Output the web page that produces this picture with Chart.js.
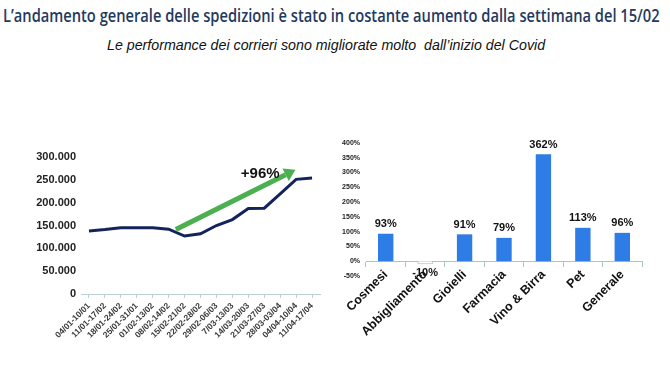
<!DOCTYPE html>
<html>
<head>
<meta charset="utf-8">
<script src="https://cdn.jsdelivr.net/npm/chart.js@4"></script>
<style>
  body { margin: 0; width: 670px; height: 377px; background: #fff; position: relative; overflow: hidden; font-family: "Liberation Sans", Arial, sans-serif; }
  #title { position: absolute; left: 3px; top: 3px; white-space: nowrap; font: 600 18px "Open Sans", sans-serif; color: #1f3a5f; transform-origin: 0 0; }
  #subtitle { position: absolute; left: 107px; top: 37px; font: italic 14px "Liberation Sans", Arial, sans-serif; color: #111; white-space: pre; transform-origin: 0 0; }
  .box { position: absolute; }
</style>
</head>
<body>
<div id="title">L’andamento generale delle spedizioni è stato in costante aumento dalla settimana del 15/02</div>
<div id="subtitle">Le performance dei corrieri sono migliorate molto  dall’inizio del Covid</div>
<div class="box" style="left:0;top:140px;width:330px;height:230px"><canvas id="left"></canvas></div>
<div class="box" style="left:330px;top:125px;width:340px;height:245px"><canvas id="right"></canvas></div>
<script>
// settimane e spedizioni
const weeks = ["04/01-10/01", "11/01-17/02", "18/01-24/02", "25/01-31/01", "01/02-13/02", "08/02-14/02", "15/02-21/02", "22/02-28/02", "29/02-06/03", "7/03-13/03", "14/03-20/03", "21/03-27/03", "28/03-03/04", "04/04-10/04", "11/04-17/04"]
const shipments = [138000, 141000, 145000, 145000, 145000, 142000, 127000, 132000, 150000, 163000, 187000, 188000, 219000, 251000, 254000]
const trendFrom = [5.45, 141000]
const trendTo = [12.96, 272000]
const trendLabel = "+96%"

// crescita per categoria
const categories = ["Cosmesi", "Abbigliamento", "Gioielli", "Farmacia", "Vino & Birra", "Pet", "Generale"]
const growth = [93, -10, 91, 79, 362, 113, 96]

const t = document.getElementById("title")
t.style.transform = "scaleX(" + (657 / t.offsetWidth) + ")"
const st = document.getElementById("subtitle")
st.style.transform = "scaleX(" + (438 / st.offsetWidth) + ")"

const fmt = v => v === 0 ? "0" : v.toLocaleString("it-IT").replace(/,/g, ".")

const trendArrow = {
    id: "trendArrow",
    afterDatasetsDraw(chart) {
        const x = chart.scales.x, y = chart.scales.y, ctx = chart.ctx
        const x1 = x.getPixelForValue(trendFrom[0]), y1 = y.getPixelForValue(trendFrom[1])
        const x2 = x.getPixelForValue(trendTo[0]), y2 = y.getPixelForValue(trendTo[1])
        const a = Math.atan2(y2 - y1, x2 - x1)
        const hx = x2 - 11 * Math.cos(a), hy = y2 - 11 * Math.sin(a)
        ctx.save()
        ctx.strokeStyle = "#4caf50"
        ctx.fillStyle = "#4caf50"
        ctx.lineWidth = 5
        ctx.beginPath()
        ctx.moveTo(x1, y1)
        ctx.lineTo(hx, hy)
        ctx.stroke()
        ctx.beginPath()
        ctx.moveTo(x2, y2)
        ctx.lineTo(hx + 7 * Math.sin(a), hy - 7 * Math.cos(a))
        ctx.lineTo(hx - 7 * Math.sin(a), hy + 7 * Math.cos(a))
        ctx.closePath()
        ctx.fill()
        ctx.fillStyle = "#111"
        ctx.font = "bold 15px 'Liberation Sans', Arial"
        ctx.textAlign = "center"
        ctx.textBaseline = "middle"
        ctx.fillText(trendLabel, x.getPixelForValue(10.75), y.getPixelForValue(262000))
        ctx.restore()
    }
}

new Chart(document.getElementById("left"), {
    type: "line",
    data: {
        labels: weeks,
        datasets: [{
            data: shipments,
            borderColor: "#15235c",
            borderWidth: 3,
            pointRadius: 0,
            tension: 0
        }]
    },
    options: {
        responsive: true,
        maintainAspectRatio: false,
        animation: false,
        layout: { padding: { top: 17, right: 10, left: 0, bottom: 0 } },
        plugins: { legend: { display: false }, tooltip: { enabled: false } },
        scales: {
            x: {
                offset: true,
                afterFit: s => { s.height = 76 },
                border: { color: "#b9d3d3" },
                grid: { drawOnChartArea: false, color: "#b9d3d3", tickLength: 4 },
                ticks: { color: "#3a3a3a", font: { size: 8.5, weight: "bold" }, maxRotation: 45, minRotation: 45, autoSkip: false, padding: 3 }
            },
            y: {
                min: 0,
                max: 300000,
                afterFit: s => { s.width = 81 },
                border: { display: false },
                grid: { display: false, drawTicks: false },
                ticks: { stepSize: 50000, color: "#222", font: { size: 11, weight: "bold" }, padding: 5, callback: fmt }
            }
        }
    },
    plugins: [trendArrow]
})

const barLabels = {
    id: "barLabels",
    afterDatasetsDraw(chart) {
        const ctx = chart.ctx
        ctx.save()
        ctx.fillStyle = "#111"
        ctx.font = "bold 11px 'Liberation Sans', Arial"
        ctx.textAlign = "center"
        chart.getDatasetMeta(0).data.forEach((bar, i) => {
            const v = growth[i]
            ctx.textBaseline = v < 0 ? "top" : "bottom"
            ctx.fillText(v + "%", bar.x, v < 0 ? bar.y + 3 : bar.y - 4)
        })
        ctx.restore()
    }
}

new Chart(document.getElementById("right"), {
    type: "bar",
    data: {
        labels: categories,
        datasets: [{
            data: growth,
            backgroundColor: growth.map(v => v < 0 ? "#ffffff" : "#2e7de6"),
            borderColor: growth.map(v => v < 0 ? "#9cc3c0" : "#2e7de6"),
            borderWidth: growth.map(v => v < 0 ? 1 : 0),
            barPercentage: 0.39,
            categoryPercentage: 1
        }]
    },
    options: {
        responsive: true,
        maintainAspectRatio: false,
        animation: false,
        layout: { padding: { top: 18, right: 28, left: 0, bottom: 94 } },
        plugins: { legend: { display: false }, tooltip: { enabled: false } },
        scales: {
            x: {
                position: { y: 0 },
                afterFit: s => { s.height = 0 },
                border: { color: "#a9c6c8" },
                grid: { drawOnChartArea: false, color: "#a9c6c8", tickLength: 5 },
                ticks: { color: "#111", font: { size: 12.5, weight: "bold" }, maxRotation: 45, minRotation: 45, autoSkip: false, padding: 1 }
            },
            y: {
                min: -50,
                max: 400,
                afterFit: s => { s.width = 36 },
                border: { display: false },
                grid: { display: false, drawTicks: false },
                ticks: { stepSize: 50, color: "#222", font: { size: 7, weight: "bold" }, padding: 6, callback: v => v + "%" }
            }
        }
    },
    plugins: [barLabels]
})
</script>
</body>
</html>
